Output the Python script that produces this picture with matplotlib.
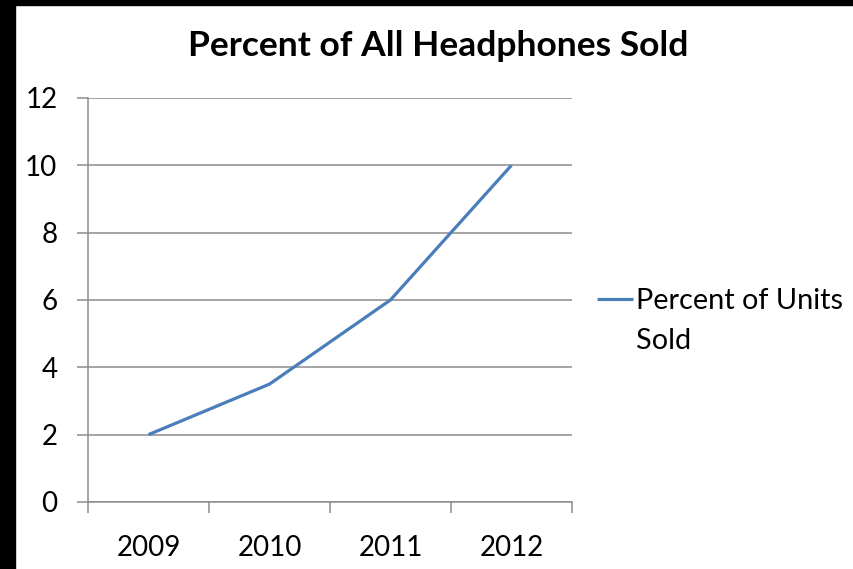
import matplotlib.pyplot as plt
from matplotlib.patches import Rectangle

years = ['2009', '2010', '2011', '2012']
percent_units = [2.0, 3.5, 6.0, 10.0]
series_label = ['Percent of Units', 'Sold']  # legend label wraps onto two lines
title = 'Percent of All Headphones Sold'

plt.rcParams['font.family'] = ['Lato', 'DejaVu Sans']

fig = plt.figure(figsize=(8.54, 5.69), dpi=100)
ax = fig.add_axes([0.1030, 0.1178, 0.5667, 0.7100])

x = list(range(len(years)))
ax.plot(x, percent_units, color='#4A7EBB', linewidth=2.3, label=series_label[0],
        solid_capstyle='butt')

ax.set_xlim(-0.5, len(years) - 0.5)
ax.set_ylim(0, 12)
ax.set_yticks(range(0, 13, 2))
ax.yaxis.grid(True, color='#8c8c8c', linewidth=1.1)
ax.set_axisbelow(True)

# category labels at centres, tick marks on the boundaries
ax.set_xticks(x)
ax.set_xticklabels(years)
ax.set_xticks([i - 0.5 for i in range(len(years) + 1)], minor=True)
ax.tick_params(axis='x', which='major', length=0, pad=24, labelsize=20)
ax.tick_params(axis='x', which='minor', length=8, width=1.1, color='#8c8c8c')
ax.tick_params(axis='y', length=8, width=1.1, color='#8c8c8c', pad=14, labelsize=20)

for side in ['top', 'right']:
    ax.spines[side].set_visible(False)
for side in ['left', 'bottom']:
    ax.spines[side].set_color('#8c8c8c')
    ax.spines[side].set_linewidth(1.1)

fig.text(0.513, 0.92, title, ha='center', va='center', fontsize=25.5, fontweight='bold')

leg = ax.legend(loc='center left', bbox_to_anchor=(597 / 854, 1 - 301 / 569),
                bbox_transform=fig.transFigure, frameon=False, fontsize=20.8,
                handlelength=1.25, handletextpad=0.1, borderpad=0, borderaxespad=0)

# second line of the wrapped legend label, under the first one
fig.canvas.draw()
bb = leg.get_texts()[0].get_window_extent()
fig.text(bb.x0 / fig.bbox.width, (bb.y0 - 40 + bb.height / 2) / fig.bbox.height,
         series_label[1], ha='left', va='center', fontsize=20.8)

# black strips on the left and top edges of the screenshot
fig.patches.append(Rectangle((0, 0), 15 / 854, 1, transform=fig.transFigure,
                             color='black', zorder=10))
fig.patches.append(Rectangle((0, 1 - 5 / 569), 1, 5 / 569, transform=fig.transFigure,
                             color='black', zorder=10))

fig.savefig('out.png', dpi=100)
plt.close()
